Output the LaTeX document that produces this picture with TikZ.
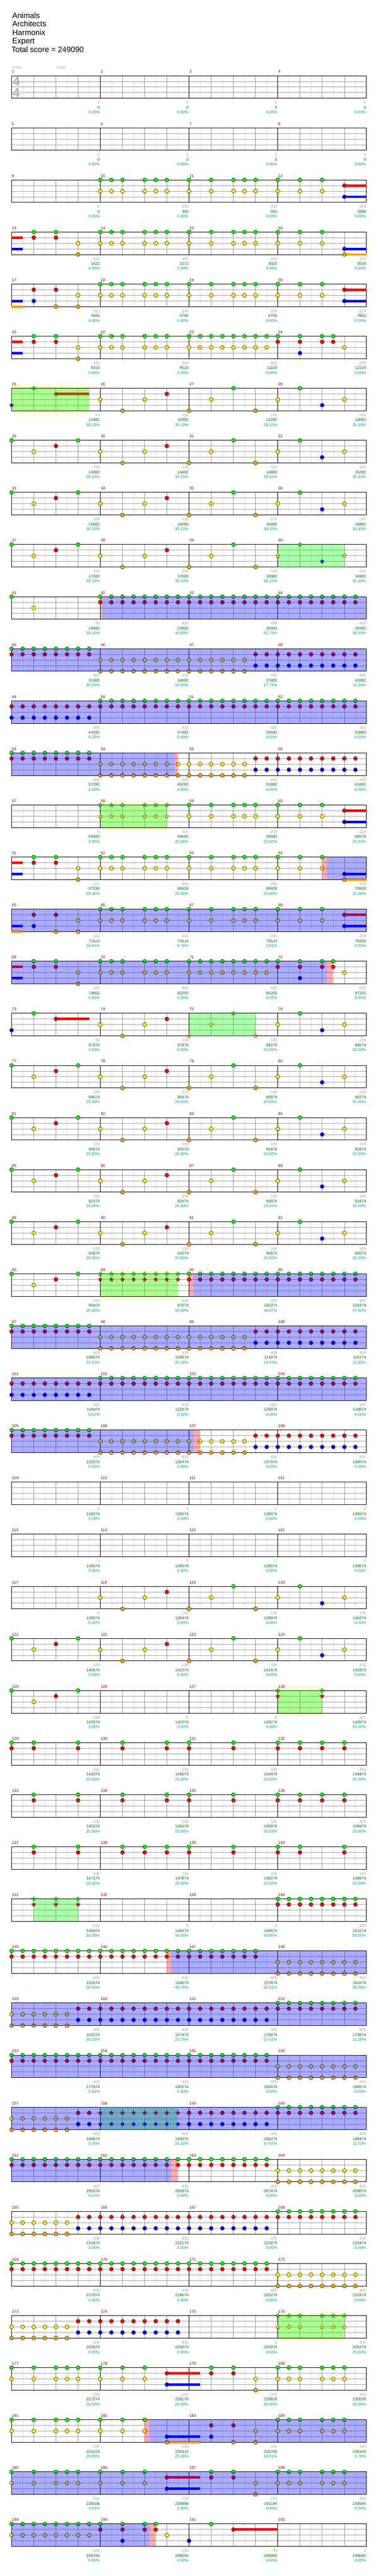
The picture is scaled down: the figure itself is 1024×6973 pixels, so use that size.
\documentclass[tikz,border=0pt]{standalone}
\usepackage{fontspec}
\setmainfont{Liberation Sans}
\newfontfamily\dejavu{DejaVu Sans}
\usetikzlibrary{shapes.geometric}

\definecolor{lc0}{RGB}{0,255,0}
\definecolor{lc1}{RGB}{255,0,0}
\definecolor{lc2}{RGB}{255,255,0}
\definecolor{lc3}{RGB}{0,0,255}
\definecolor{lc4}{RGB}{255,165,0}
\definecolor{brn}{RGB}{165,82,0}
\definecolor{ybgc}{RGB}{255,255,212}
\definecolor{mnumc}{RGB}{140,0,0}
\definecolor{sgc}{RGB}{160,160,160}
\definecolor{sgrc}{RGB}{0,100,0}
\definecolor{stc}{RGB}{0,150,150}
\definecolor{hbc}{RGB}{222,222,222}
\definecolor{btc}{RGB}{150,150,150}
\definecolor{lnc}{RGB}{160,160,160}
\definecolor{tsc}{RGB}{175,175,175}

\newcommand\smallf{\fontsize{10.8}{11}\selectfont}
\newcommand\titlef{\fontsize{21}{23}\selectfont}

\tikzset{
 hb/.style={draw=hbc, line width=0.8pt},
 bt/.style={draw=btc, line width=0.8pt},
 lnl/.style={draw=lnc, line width=1.1pt},
 msl/.style={draw=black, line width=0.9pt},
 border/.style={draw=black, line width=1.3pt},
 notest/.style={draw=black, line width=0.7pt},
 starnode/.style={star, star points=5, star point ratio=2.4, minimum size=12.5pt, inner sep=0pt, draw=black!85, line width=0.5pt},
 mnum/.style={text=mnumc, font=\smallf, anchor=base west, inner sep=0pt},
 scg/.style={text=sgc, font=\smallf, anchor=base east, inner sep=0pt},
 scgr/.style={text=sgrc, font=\smallf, anchor=base east, inner sep=0pt},
 sct/.style={text=stc, font=\smallf, anchor=base east, inner sep=0pt},
 titlet/.style={font=\titlef, anchor=base west, inner sep=0pt},
 tsig/.style={text=tsc, font=\fontsize{34}{34}\selectfont\bfseries, inner sep=0pt},
 tempo/.style={text=sgc, font=\fontsize{10}{10}\selectfont, anchor=base west, inner sep=0pt},
}

\def\xo{31.3}
\newcommand\setrow[1]{\def\rk{#1}\pgfmathsetmacro\ry{205+141*#1}}
\newcommand\staff{%
 \foreach \p in {1,3,...,31} {\draw[hb] ({\xo+30*\p},\ry) -- ++(0,61);}
 \foreach \p in {2,4,6,10,12,14,18,20,22,26,28,30} {\draw[bt] ({\xo+30*\p},\ry) -- ++(0,61);}
 \foreach \l in {1,2,3} {\draw[lnl] (\xo,{\ry+15.25*\l}) -- ({\xo+960},{\ry+15.25*\l});}
 \foreach \p in {8,16,24} {\draw[msl] ({\xo+30*\p},\ry) -- ++(0,61);}
 \draw[border] (\xo,\ry) rectangle ({\xo+960},{\ry+61});
 \foreach \i in {0,1,2,3} {\pgfmathtruncatemacro\mn{4*\rk+1+\i}\node[mnum] at ({\xo+240*\i+0.8},{\ry-7}) {\mn};}
}
\newcommand\nts[2]{\foreach \p in {#2} {\filldraw[notest, fill=lc#1] ({\xo+30*\p},{\ry+15.25*#1}) circle (5.3);}}
\newcommand\sts[2]{\foreach \p in {#2} {\node[starnode, fill=lc#1] at ({\xo+30*\p},{\ry+15.25*#1}) {};}}
\newcommand\susl[3]{\fill[lc#1] ({\xo+30*#2},{\ry+15.25*#1-3.4}) rectangle ({\xo+30*#3},{\ry+15.25*#1+3.4});}
\newcommand\susc[4]{\fill[#1] ({\xo+30*#3},{\ry+15.25*#2-3.4}) rectangle ({\xo+30*#4},{\ry+15.25*#2+3.4});}
\newcommand\gov[2]{\fill[green, opacity=0.33] ({\xo+30*#1},\ry) rectangle ({\xo+30*#2},{\ry+61});}
\newcommand\ybg[2]{\fill[ybgc] ({\xo+30*#1},{\ry-10}) rectangle ({\xo+30*#2},{\ry+71});}
\newcommand\bov[2]{\fill[blue, opacity=0.33] ({\xo+30*#1},\ry) rectangle ({\xo+30*#2},{\ry+61});}
\newcommand\pov[2]{\fill[red, opacity=0.33] ({\xo+30*#1},\ry) rectangle ({\xo+30*#2},{\ry+61});}
\newcommand\scores[1]{\foreach \va/\vb/\vc [count=\i] in {#1} {%
 \node[scg] at ({\xo+240*\i-1.2},{\ry+76.4}) {\va};
 \node[scgr] at ({\xo+240*\i-1.2},{\ry+89.7}) {\vb};
 \node[sct] at ({\xo+240*\i-1.2},{\ry+102.7}) {\vc\%};}}
\newcommand\patP{\nts0{0,6,20,26}\nts1{4,14}\nts2{2,8,12,18,24,30}\nts3{28}\nts4{10,16,22}}
\newcommand\patS{\nts0{0,...,7}\nts1{0,...,7}\nts2{8,...,21}\nts4{8,...,21}\nts1{22,...,31}\nts3{22,...,31}}
\newcommand\patT{\nts1{0,...,31}\nts3{0,...,7}\nts0{8,...,31}}
\newcommand\patU{\nts2{0,...,5}\nts4{0,...,5}\nts1{6,...,31}\nts3{6,...,23}\nts0{24,...,31}}
\newcommand\patV{\nts0{0,...,23}\nts1{0,...,23}\nts2{24,...,31}\nts4{24,...,31}}
\newcommand\patW{\nts0{0,2,4,5,6,8,10,12,18,20,24,25,26,28,29,30}\nts2{0,2,4,5,6,8,10,12,22,24,25,26,28,29,30}\susl1{14}{17}\nts1{14,18,20}\susl3{14}{17}\nts3{14}\nts4{22}}
\newcommand\patX{\susl1{0}{1}\susl3{0}{1}\nts0{2,4,8,9,10,12,13,14,16,17,18,19,20,21,22,23,24,26,28,29}\nts1{2,4,24,26,28,29}\nts2{6,8,9,10,12,13,14,16,17,18,19,20,21,22,23,30}\nts3{26}\nts4{6}}
\newcommand\patY{\susl1{0}{1}\susl3{0}{1}\nts0{2,4,8,9,10,12,13,14,16,18,20,21,22,24,26,28}\nts1{2,4}\nts2{6,8,9,10,12,13,14,16,18,20,21,22,24,26,28}\susl3{30}{32}\nts3{30}\susl4{30}{32}\nts4{6,30}}
\newcommand\patZ{\susl3{0}{1}\susl4{0}{1}\nts0{8,9,10,12,13,14,16,18,20,21,22,24,26,28}\susl1{30}{32}\nts1{2,4,30}\nts2{6,8,9,10,12,13,14,16,18,20,21,22,24,26,28}\susl3{30}{32}\nts3{2,30}\nts4{4,6}}

\begin{document}
\begin{tikzpicture}[x=1pt,y=-1pt]
\useasboundingbox (0,0) rectangle (1024,6973);
\fill[white] (0,0) rectangle (1024,6973);

\node[titlet] at (33,49) {Animals};
\node[titlet] at (33,72) {Architects};
\node[titlet] at (33,95) {Harmonix};
\node[titlet] at (33,118) {Expert};
\node[titlet] at (31,141) {Total score = 249090};

% row 0
\setrow{0}\staff
\node[tsig] at (44,220.5) {4};
\node[tsig] at (44,251) {4};
\node[tempo] at (30.5,185.5) {{\dejavu ♩}=190};
\node[tempo] at (150.5,185.5) {{\dejavu ♩}=190};
\scores{0/0/0.00,0/0/0.00,0/0/0.00,0/0/0.00}
% row 1
\setrow{1}\staff
\scores{0/0/0.00,0/0/0.00,0/0/0.00,0/0/0.00}
% row 2
\setrow{2}\staff
\nts0{8,9,10,12,13,14,16,18,20,21,22,24,26,28}
\susl1{30}{32}\nts1{30}
\nts2{8,9,10,12,13,14,16,18,20,21,22,24,26,28}
\susl3{30}{32}\nts3{30}
\scores{0/0/0.00,300/300/0.00,250/650/0.00,224/1098/0.00}
% row 3
\setrow{3}\staff\patY
\scores{162/1422/0.00,300/2272/0.00,250/3022/0.00,224/3918/0.00}
% row 4
\setrow{4}\staff\patZ
\scores{162/4566/0.00,300/5766/0.00,250/6766/0.00,224/7662/0.00}
% row 5
\setrow{5}\staff\patX
\scores{162/8310/0.00,300/9510/0.00,400/11110/0.00,250/12110/0.00}
% row 6
\setrow{6}\ybg{0}{7}\staff\gov{0}{7}
\sts3{0}\sts0{2}\susc{brn}{1}{4}{7}\node[starnode, fill=brn] at ({\xo+120},{\ry+15.25}) {};
\nts2{8,12,18,24,30}\nts4{10,16,22}\nts1{14}\nts0{20,26}\nts3{28}
\scores{93/12482/30.10,100/12882/30.10,100/13282/30.10,100/13682/30.10}
% row 7
\setrow{7}\staff\patP
\scores{100/14082/30.10,100/14482/30.10,100/14882/30.10,100/15282/30.10}
% row 8
\setrow{8}\staff\patP
\scores{100/15682/30.10,100/16082/30.10,100/16482/30.10,100/16882/30.10}
% row 9
\setrow{9}\staff\gov{24}{30}
\nts0{0,6,20}\nts1{4,14}\nts2{2,8,12,18}\nts4{10,16,22}
\sts2{24,30}\sts0{26}\sts3{28}
\scores{100/17282/30.10,100/17682/30.10,100/18082/30.10,100/18482/55.10}
% row 10
\setrow{10}\staff
\nts0{0}\nts2{2}\nts0{8,...,31}\nts1{8,...,31}
\pov{8}{8.17}\bov{8.17}{32}
\scores{50/18682/55.10,400/21882/49.00,400/25082/42.75,400/28282/36.50}
% row 11
\setrow{11}\staff\patS\bov{0}{32}
\scores{400/31482/30.25,400/34682/24.00,400/37882/17.75,400/41082/11.50}
% row 12
\setrow{12}\staff\patT\bov{0}{32}
\scores{400/44282/5.25,400/47482/0.00,400/50682/0.00,400/53882/0.00}
% row 13
\setrow{13}\staff\patS\bov{0}{14.7}\pov{14.7}{15}
\scores{400/57282/0.00,400/60282/0.00,400/61882/0.00,400/63482/0.00}
% row 14
\setrow{14}\ybg{8}{14}\staff\gov{8}{14}
\sts0{8,9,10,12,13,14}\sts2{8,9,10,12,13,14}
\nts0{16,18,20,21,22,24,26,28}\nts2{16,18,20,21,22,24,26,28}
\susl1{30}{32}\nts1{30}\susl3{30}{32}\nts3{30}
\scores{0/63482/0.00,300/64682/25.00,250/65682/25.00,224/66578/25.00}
% row 15
\setrow{15}\staff\patY\pov{28}{28.43}\bov{28.43}{32}
\scores{162/67226/25.00,300/68426/25.00,250/69426/25.00,224/70818/22.26}
% row 16
\setrow{16}\staff\patZ\bov{0}{32}
\scores{162/72114/16.01,300/74514/9.76,250/76514/3.51,224/78306/0.00}
% row 17
\setrow{17}\staff\patX\bov{0}{28.43}\pov{28.43}{28.98}
\scores{162/79602/0.00,300/82202/0.00,400/85202/0.00,250/87102/0.00}
% row 18
\setrow{18}\staff\gov{16}{22}
\nts3{0}\nts0{2}\susl1{4}{7}\nts1{4,14}\nts2{8,12,24,30}\nts4{10}
\sts4{16,22}\sts2{18}\sts0{20}
\nts0{26}\nts3{28}
\scores{93/87474/0.00,100/87874/0.00,100/88274/25.00,100/88674/25.00}
% rows 19-22
\setrow{19}\staff\patP
\scores{100/89074/25.00,100/89474/25.00,100/89874/25.00,100/90274/25.00}
\setrow{20}\staff\patP
\scores{100/90674/25.00,100/91074/25.00,100/91474/25.00,100/91874/25.00}
\setrow{21}\staff\patP
\scores{100/92274/25.00,100/92674/25.00,100/93074/25.00,100/93474/25.00}
\setrow{22}\staff\patP
\scores{100/93874/25.00,100/94274/25.00,100/94674/25.00,100/95074/25.00}
% row 23
\setrow{23}\ybg{8}{15}\staff\gov{8}{15}
\nts0{0,6}\nts1{4}\nts2{2}
\sts0{8,...,15}\sts1{8,...,15}
\nts0{16,...,31}\nts1{16,...,31}
\pov{16}{16.39}\bov{16.39}{32}
\scores{100/95474/25.00,400/97074/50.00,400/100274/44.07,400/103474/37.82}
% row 24
\setrow{24}\staff\patS\bov{0}{32}
\scores{400/106674/31.57,400/109874/25.32,400/113074/19.07,400/116274/12.82}
% row 25
\setrow{25}\staff\patT\bov{0}{32}
\scores{400/119474/6.57,400/122674/0.32,400/125874/0.00,400/129074/0.00}
% row 26
\setrow{26}\staff\patS\bov{0}{16.39}\pov{16.39}{16.98}
\scores{400/132274/0.00,400/135474/0.00,400/137474/0.00,400/139074/0.00}
% rows 27-28
\setrow{27}\staff
\scores{0/139074/0.00,0/139074/0.00,0/139074/0.00,0/139074/0.00}
\setrow{28}\staff
\scores{0/139074/0.00,0/139074/0.00,0/139074/0.00,0/139074/0.00}
% row 29
\setrow{29}\staff
\nts2{8,12,18,24,30}\nts4{10,16,22}\nts1{14}\nts0{20,26}\nts3{28}
\scores{0/139074/0.00,100/139474/0.00,100/139874/0.00,100/140274/0.00}
% row 30
\setrow{30}\staff\patP
\scores{100/140674/0.00,100/141074/0.00,100/141474/0.00,100/141874/0.00}
% row 31
\setrow{31}\ybg{24}{28}\staff\gov{24}{28}
\nts0{0,6}\nts2{2}\nts1{4}\sts0{24,28}\sts1{24,28}
\scores{100/142274/0.00,0/142274/0.00,0/142274/0.00,100/142674/25.00}
% row 32
\setrow{32}\staff
\nts0{0,2,6,10,14,16,20,24,26,28,30}\nts1{0,2,6,10,14,16,20,24,26,28,30}
\scores{150/143274/25.00,100/143674/25.00,100/144074/25.00,200/144874/25.00}
% row 33
\setrow{33}\staff
\nts0{2,6,10,14,16,20,24,26,28,30}\nts1{2,6,10,14,16,20,24,26,28,30}
\scores{100/145274/25.00,100/145674/25.00,100/146074/25.00,200/146874/25.00}
% row 34
\setrow{34}\staff
\nts0{2,6,10,12,14,16,20,24,26,30}\nts1{2,6,10,12,14,16,20,24,26,30}
\scores{100/147274/25.00,150/147874/25.00,100/148274/25.00,150/148874/25.00}
% row 35
\setrow{35}\staff\gov{2}{6}
\sts0{2,4,6}\sts1{2,4,6}\nts0{24,...,31}\nts1{24,...,31}
\scores{150/149474/50.00,0/149474/50.00,0/149474/50.00,400/151074/50.00}
% row 36
\setrow{36}\staff
\nts0{0,...,22}\nts1{0,...,22}\nts2{24,...,31}\nts4{24,...,31}
\pov{14}{14.39}\bov{14.39}{32}
\scores{400/152674/50.00,400/154674/48.76,400/157874/42.51,400/161074/36.26}
% row 37
\setrow{37}\staff\patU\bov{0}{32}
\scores{400/164274/30.01,400/167474/23.76,400/170674/17.51,400/173874/11.26}
% row 38
\setrow{38}\staff\patV\bov{0}{32}
\scores{400/177074/5.01,400/180274/0.00,400/183474/0.00,400/186674/0.00}
% row 39
\setrow{39}\staff\gov{8}{15}
\nts2{0,...,5}\nts4{0,...,5}
\nts1{6,7}\sts1{8,...,15}\nts1{16,...,31}
\nts3{6,7}\sts3{8,...,15}\nts3{16,...,23}
\nts0{24,...,31}\bov{0}{32}
\scores{400/189874/0.00,400/193074/24.22,400/196274/17.97,400/199474/11.72}
% row 40
\setrow{40}\staff\patV\bov{0}{14.39}\pov{14.39}{15}
\scores{400/202674/5.47,400/205874/0.00,400/207474/0.00,400/209074/0.00}
% row 41
\setrow{41}\staff\patU
\scores{400/210674/0.00,400/212274/0.00,400/213874/0.00,400/215474/0.00}
% row 42
\setrow{42}\staff\patV
\scores{400/217074/0.00,400/218674/0.00,400/220274/0.00,400/221874/0.00}
% row 43
\setrow{43}\ybg{24}{30}\staff\gov{24}{30}
\nts2{0,...,5}\nts4{0,...,5}\nts1{6,...,15}\nts3{6,...,15}
\sts0{24,25,26,28,29,30}\sts2{24,25,26,28,29,30}
\scores{400/223474/0.00,400/225074/0.00,0/225074/0.00,300/226274/25.00}
% row 44
\setrow{44}\staff\patW
\scores{250/227274/25.00,224/228170/25.00,162/228818/25.00,300/230018/25.00}
% row 45
\setrow{45}\staff
\nts0{0,2,4,5,6,8,10,12,24,25,26,28,29,30}
\nts2{0,2,4,5,6,8,10,12,22,24,25,26,28,29,30}
\susl3{14}{17}\nts3{14,18}\susl4{14}{17}\nts4{14,20,22}\nts1{18,20}
\pov{12}{12.46}\bov{12.46}{32}
\scores{250/231018/25.00,224/232410/22.26,162/233706/16.01,300/236106/9.76}
% row 46
\setrow{46}\staff\patW\bov{0}{32}
\scores{250/238106/3.51,224/239898/0.00,162/241194/0.00,300/243594/0.00}
% row 47
\setrow{47}\staff
\nts0{0,...,8}\nts0{10,12,13,18}
\nts1{8,10,12,13}\susl1{20}{24}\nts1{20}
\nts2{0,...,7}\nts2{14}\nts3{10,16}
\bov{0}{12.46}\pov{12.46}{13}
\scores{400/246794/0.00,250/248694/0.00,99/249090/0.00,0/249090/0.00}
\end{tikzpicture}
\end{document}
